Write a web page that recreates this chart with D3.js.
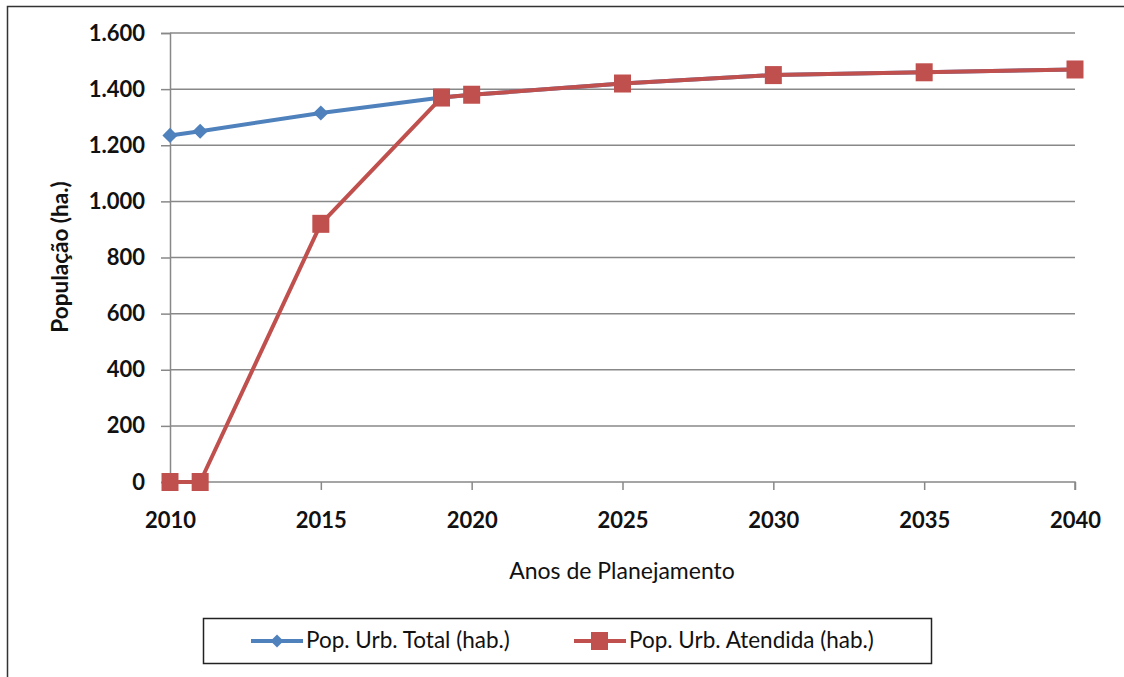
<!DOCTYPE html>
<html>
<head>
<meta charset="utf-8">
<script src="https://cdn.jsdelivr.net/npm/d3@7"></script>
<style>
  html, body { margin: 0; padding: 0; background: #fff; }
  svg { display: block; }
</style>
</head>
<body>
<svg id="chart" width="1124" height="677"></svg>
<script>
const years = [2010, 2011, 2015, 2019, 2020, 2025, 2030, 2035, 2040];
const popTotal = [1235, 1250, 1315, 1370, 1380, 1420, 1450, 1460, 1470];
const popAtendida = [0, 0, 920, 1370, 1380, 1420, 1450, 1460, 1470];
const xTicks = [2010, 2015, 2020, 2025, 2030, 2035, 2040];
const yTicks = [0, 200, 400, 600, 800, 1000, 1200, 1400, 1600];
const seriesNames = ["Pop. Urb. Total (hab.)", "Pop. Urb. Atendida (hab.)"];
const xTitle = "Anos de Planejamento";
const yTitle = "População (ha.)";

const blue = "#4F81BD", red = "#C0504D";
const font = "Lato, 'Open Sans', sans-serif";

const svg = d3.select("#chart");

// outer frame
svg.append("rect").attr("x", 7.5).attr("y", 6.5).attr("width", 1140).attr("height", 700)
  .attr("fill", "none").attr("stroke", "#333").attr("stroke-width", 1.5);

const L = 170, R = 1075, T = 33, B = 482;
const x = d3.scaleLinear().domain([2010, 2040]).range([L, R]);
const y = d3.scaleLinear().domain([0, 1600]).range([B, T]);

const loc = d3.formatLocale({decimal: ",", thousands: ".", grouping: [3], currency: ["", ""]});
const fmt = loc.format(",d");

const yAxis = d3.axisLeft(y).tickValues(yTicks).tickFormat(fmt).tickSize(9).tickPadding(16);
const gy = svg.append("g").attr("transform", `translate(${L},0)`).call(yAxis);
gy.select(".domain").attr("stroke", "#888").attr("stroke-width", 1.5);
gy.selectAll(".tick line").attr("stroke", "#888").attr("stroke-width", 1.5);
gy.selectAll(".tick text").attr("font-family", font).attr("font-weight", "bold")
  .attr("font-size", 22).attr("fill", "#111");

svg.append("g").selectAll("line").data(yTicks.filter(d => d > 0)).join("line")
  .attr("x1", L).attr("x2", R).attr("y1", d => y(d)).attr("y2", d => y(d))
  .attr("stroke", "#888").attr("stroke-width", 1.5);

const xAxis = d3.axisBottom(x).tickValues(xTicks).tickFormat(d3.format("d")).tickSize(8).tickPadding(22);
const gx = svg.append("g").attr("transform", `translate(0,${B})`).call(xAxis);
gx.select(".domain").attr("stroke", "#888").attr("stroke-width", 1.5).attr("d", `M${L},0H${R}V8`);
gx.selectAll(".tick line").attr("stroke", "#888").attr("stroke-width", 1.5);
gx.selectAll(".tick text").attr("font-family", font).attr("font-weight", "bold")
  .attr("font-size", 22).attr("fill", "#111");

// axis titles
svg.append("text").attr("x", 622).attr("y", 579).attr("text-anchor", "middle")
  .attr("font-family", font).attr("font-size", 23).attr("fill", "#111").text(xTitle);
svg.append("text").attr("transform", "translate(68,257) rotate(-90)").attr("text-anchor", "middle")
  .attr("font-family", font).attr("font-weight", "bold").attr("font-size", 22.5).attr("fill", "#111").text(yTitle);

// lines
const line = d3.line().x(d => x(d[0])).y(d => y(d[1]));
const dTotal = years.map((yr, i) => [yr, popTotal[i]]);
const dAt = years.map((yr, i) => [yr, popAtendida[i]]);

svg.append("path").datum(dTotal).attr("d", line).attr("fill", "none")
  .attr("stroke", blue).attr("stroke-width", 4).attr("stroke-linejoin", "round");
svg.append("g").selectAll("path").data(dTotal).join("path")
  .attr("transform", d => `translate(${x(d[0])},${y(d[1])}) rotate(45)`)
  .attr("d", d3.symbol().type(d3.symbolSquare).size(115)).attr("fill", blue);

svg.append("path").datum(dAt).attr("d", line).attr("fill", "none")
  .attr("stroke", red).attr("stroke-width", 4).attr("stroke-linejoin", "round");
svg.append("g").selectAll("rect").data(dAt).join("rect")
  .attr("x", d => x(d[0]) - 8.5).attr("y", d => y(d[1]) - 9)
  .attr("width", 17).attr("height", 18).attr("fill", red);

// legend
const lg = svg.append("g");
lg.append("rect").attr("x", 203.5).attr("y", 618.5).attr("width", 728).attr("height", 45)
  .attr("fill", "#fff").attr("stroke", "#222").attr("stroke-width", 1.5);
const legendItems = [
  {name: seriesNames[0], color: blue, x0: 251, type: "diamond"},
  {name: seriesNames[1], color: red, x0: 574, type: "square"}
];
legendItems.forEach(it => {
  lg.append("line").attr("x1", it.x0).attr("x2", it.x0 + 52).attr("y1", 641).attr("y2", 641)
    .attr("stroke", it.color).attr("stroke-width", 4);
  if (it.type === "diamond") {
    lg.append("path").attr("transform", `translate(${it.x0 + 26},641) rotate(45)`)
      .attr("d", d3.symbol().type(d3.symbolSquare).size(85)).attr("fill", it.color);
  } else {
    lg.append("rect").attr("x", it.x0 + 17).attr("y", 632).attr("width", 17).attr("height", 18).attr("fill", it.color);
  }
  lg.append("text").attr("x", it.x0 + 55).attr("y", 648).attr("font-family", font)
    .attr("font-size", 22.5).attr("fill", "#111").text(it.name);
});
</script>
</body>
</html>
